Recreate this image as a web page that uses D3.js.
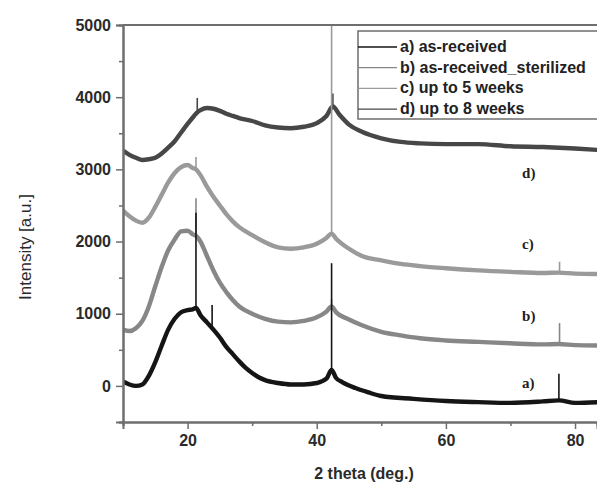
<!DOCTYPE html>
<html>
<head>
<meta charset="utf-8">
<script src="https://cdn.jsdelivr.net/npm/d3@7"></script>
<style>
  html, body { margin: 0; padding: 0; background: #fff; }
  svg { display: block; }
</style>
</head>
<body>
<div id="chart"></div>
<script>
// XRD patterns ([2theta, intensity]) - broad background
const seriesA = [[10,60],[11,20],[12,0],[13,20],[14,140],[15,330],[16,560],[17,780],[18,930],[19,1020],[20,1050],[20.8,1060],[21.3,1080],[22,980],[23,880],[24,780],[25,670],[26,540],[27,440],[28,340],[29,250],[30,180],[31,120],[32,80],[34,40],[36,20],[38,20],[40,40],[41.5,100],[42.3,220],[43,110],[44,50],[46,-30],[48,-90],[50,-140],[55,-180],[60,-210],[65,-225],[70,-235],[75,-215],[77.5,-200],[80,-235],[83.5,-225]];
const seriesB = [[10,780],[11,760],[12,800],[13,900],[14,1100],[15,1380],[16,1650],[17,1880],[18,2030],[19,2140],[20,2150],[20.8,2100],[21.3,2080],[22,2000],[23,1800],[24,1600],[25,1430],[26,1300],[27,1190],[28,1100],[30,1000],[32,930],[34,890],[36,880],[38,900],[40,950],[41.5,1030],[42.3,1100],[43,1020],[45,920],[47,840],[50,750],[53,700],[56,660],[60,630],[65,610],[70,590],[75,575],[77.5,580],[80,565],[83.5,560]];
const seriesC = [[10,2430],[11,2350],[12,2290],[13,2260],[14,2330],[15,2480],[16,2650],[17,2820],[18,2950],[19,3030],[20,3060],[20.8,3020],[21.3,3000],[22,2920],[23,2760],[24,2620],[25,2500],[26,2380],[27,2280],[28,2200],[30,2090],[32,1990],[34,1920],[36,1900],[38,1920],[40,1970],[41.5,2050],[42.3,2110],[43,2040],[45,1900],[47,1800],[50,1740],[53,1690],[56,1660],[60,1630],[65,1600],[70,1580],[75,1565],[77.5,1570],[80,1555],[83.5,1550]];
const seriesD = [[10,3260],[11,3200],[12,3160],[13,3130],[14,3140],[15,3160],[16,3220],[17,3300],[18,3390],[19,3510],[20,3630],[21,3740],[21.5,3790],[22,3820],[23,3850],[24,3840],[25,3810],[26,3770],[27,3740],[28,3710],[30,3670],[32,3610],[34,3580],[36,3570],[38,3590],[40,3640],[41.5,3740],[42.5,3870],[43.5,3760],[45,3620],[47,3520],[50,3430],[53,3380],[56,3360],[60,3350],[65,3350],[70,3320],[75,3310],[80,3290],[83.5,3270]];

// sharp crystalline reflections ([2theta, peak top])
const peaksA = [[21.3,2400],[23.8,1120],[42.3,1700],[77.5,170]];
const peaksB = [[21.3,2600],[42.3,1200],[77.6,870]];
const peaksC = [[21.3,3170],[42.3,5200],[77.6,1720]];
const peaksD = [[21.5,3990],[42.5,4050]];

const seriesNames = ['a) as-received', 'b) as-received_sterilized', 'c) up to 5 weeks', 'd) up to 8 weeks'];
const curveTags = ['a)', 'b)', 'c)', 'd)'];
const tagPos = [[71.8, -30], [71.8, 900], [71.8, 1900], [71.8, 2880]];
const xTicks = [20, 40, 60, 80];
const yTicks = [0, 1000, 2000, 3000, 4000, 5000];

const W = 597, H = 485;
const margin = { left: 123, top: 25, right: 0, bottom: 63 };

const svg = d3.select('#chart').append('svg')
    .attr('width', W).attr('height', H);

const x = d3.scaleLinear().domain([10, 83.4]).range([margin.left, W - margin.right]);
const y = d3.scaleLinear().domain([-500, 5000]).range([H - margin.bottom, margin.top]);

const colors = ['#151515', '#878787', '#9a9a9a', '#474747'];
const allSeries = [seriesA, seriesB, seriesC, seriesD];
const allPeaks = [peaksA, peaksB, peaksC, peaksD];

svg.append('clipPath').attr('id', 'plot-clip')
    .append('rect')
    .attr('x', margin.left).attr('y', margin.top)
    .attr('width', W - margin.left).attr('height', H - margin.bottom - margin.top);

const line = d3.line().curve(d3.curveMonotoneX).x(d => x(d[0])).y(d => y(d[1]));
const bisect = d3.bisector(d => d[0]).left;

// background value of a series at 2theta (linear between read points)
function baseAt(series, t) {
    const i = Math.max(1, Math.min(series.length - 1, bisect(series, t)));
    const a = series[i - 1], b = series[i];
    return a[1] + (b[1] - a[1]) * (t - a[0]) / (b[0] - a[0]);
}

// Draw the curves: d, c, b underneath, a on top
const plotG = svg.append('g').attr('clip-path', 'url(#plot-clip)');
[3, 2, 1, 0].forEach(i => {
    plotG.append('path')
        .datum(allSeries[i])
        .attr('d', line)
        .attr('fill', 'none')
        .attr('stroke', colors[i])
        .attr('stroke-width', 4.4)
        .attr('stroke-linejoin', 'round');
    plotG.selectAll(null)
        .data(allPeaks[i])
        .join('line')
        .attr('x1', d => x(d[0])).attr('x2', d => x(d[0]))
        .attr('y1', d => y(baseAt(allSeries[i], d[0])))
        .attr('y2', d => y(d[1]))
        .attr('stroke', colors[i])
        .attr('stroke-width', 1.6);
});

// Axes
const axisColor = '#6e6e6e';
const xAxis = svg.append('g')
    .attr('transform', `translate(0,${H - margin.bottom})`)
    .call(d3.axisBottom(x).tickValues(xTicks).tickSize(7).tickPadding(6).tickFormat(d3.format('d')));
const xMinor = svg.append('g')
    .attr('transform', `translate(0,${H - margin.bottom})`)
    .call(d3.axisBottom(x).tickValues([10, 30, 50, 70]).tickSize(4).tickFormat(''));
const yAxis = svg.append('g')
    .attr('transform', `translate(${margin.left},0)`)
    .call(d3.axisLeft(y).tickValues(yTicks).tickSize(7).tickPadding(5).tickFormat(d3.format('d')));
const yMinor = svg.append('g')
    .attr('transform', `translate(${margin.left},0)`)
    .call(d3.axisLeft(y).tickValues([-500, 500, 1500, 2500, 3500, 4500]).tickSize(4).tickFormat(''));

[xAxis, xMinor, yAxis, yMinor].forEach(a => {
    a.select('.domain').attr('stroke', axisColor).attr('stroke-width', 2);
    a.selectAll('.tick line').attr('stroke', axisColor).attr('stroke-width', 1.5);
    a.selectAll('.tick text')
        .attr('fill', '#2a2a2a')
        .attr('font-family', 'Liberation Sans, Arial, sans-serif')
        .attr('font-weight', 'bold')
        .attr('font-size', '16px');
});

// top frame line
svg.append('line')
    .attr('x1', margin.left).attr('x2', W)
    .attr('y1', margin.top).attr('y2', margin.top)
    .attr('stroke', axisColor).attr('stroke-width', 2);

// Curve tags (serif)
curveTags.forEach((t, i) => {
    svg.append('text')
        .attr('x', x(tagPos[i][0]))
        .attr('y', y(tagPos[i][1]))
        .attr('font-family', 'Liberation Serif, Times New Roman, serif')
        .attr('font-weight', 'bold')
        .attr('font-size', '15px')
        .attr('fill', '#222')
        .text(t);
});

// Legend
const legend = svg.append('g');
legend.append('rect')
    .attr('x', 358).attr('y', 31)
    .attr('width', 260).attr('height', 88)
    .attr('fill', '#fff')
    .attr('stroke', axisColor).attr('stroke-width', 1.5);
seriesNames.forEach((name, i) => {
    const ly = 47 + i * 20.7;
    legend.append('line')
        .attr('x1', 358).attr('x2', 397)
        .attr('y1', ly).attr('y2', ly)
        .attr('stroke', colors[i]).attr('stroke-width', 1.3);
    legend.append('text')
        .attr('x', 400).attr('y', ly + 5)
        .attr('font-family', 'Liberation Sans, Arial, sans-serif')
        .attr('font-weight', 'bold')
        .attr('font-size', '16px')
        .attr('fill', '#222')
        .text(name);
});

// Axis titles
svg.append('text')
    .attr('transform', `translate(31,${247}) rotate(-90)`)
    .attr('text-anchor', 'middle')
    .attr('font-family', 'Liberation Sans, Arial, sans-serif')
    .attr('font-size', '17px')
    .attr('fill', '#2a2a2a')
    .text('Intensity [a.u.]');

svg.append('text')
    .attr('x', 364).attr('y', 479)
    .attr('text-anchor', 'middle')
    .attr('font-family', 'Liberation Sans, Arial, sans-serif')
    .attr('font-size', '16px')
    .attr('font-weight', 'bold')
    .attr('fill', '#2a2a2a')
    .text('2 theta (deg.)');
</script>
</body>
</html>
